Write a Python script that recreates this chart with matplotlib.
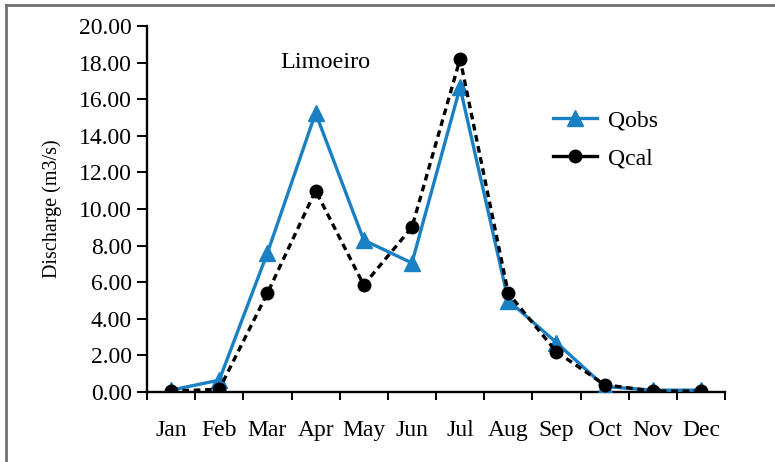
import matplotlib.pyplot as plt
import numpy as np
from matplotlib.lines import Line2D

plt.rcParams['font.family'] = ['Liberation Serif', 'DejaVu Serif']

months = ["Jan", "Feb", "Mar", "Apr", "May", "Jun",
          "Jul", "Aug", "Sep", "Oct", "Nov", "Dec"]
q_obs = [0.10, 0.65, 7.60, 15.25, 8.30, 7.05, 16.65, 5.00, 2.70, 0.30, 0.10, 0.10]
q_cal = [0.05, 0.15, 5.40, 11.00, 5.85, 9.00, 18.20, 5.40, 2.20, 0.40, 0.05, 0.05]
y_ticks = [0, 2, 4, 6, 8, 10, 12, 14, 16, 18, 20]

blue = '#1a80c4'

fig = plt.figure(figsize=(7.75, 4.62), dpi=100)
ax = fig.add_axes([147 / 775, 70 / 462, 578 / 775, 366 / 462])

x = np.arange(len(months))
ax.plot(x, q_obs, color=blue, lw=2.4, marker='^', ms=12, zorder=3, label='Qobs')
ax.plot(x, q_cal, color='black', lw=2.4, ls=(0, (2.0, 1.4)), marker='o', ms=9,
        zorder=4, label='Qcal')

ax.set_xlim(-0.5, 11.5)
ax.set_ylim(0, 20)
ax.set_yticks(y_ticks)
ax.set_yticklabels(["%.2f" % v for v in y_ticks], fontsize=17)
ax.set_xticks(x)
ax.set_xticklabels(months, fontsize=17)
ax.set_xticks(np.arange(-0.5, 12, 1), minor=True)
ax.tick_params(axis='x', which='major', length=0, pad=20)
ax.tick_params(axis='x', which='minor', length=6, width=1.4, direction='out')
ax.tick_params(axis='y', length=7, width=1.4, direction='out', pad=4)
ax.set_ylabel("Discharge (m3/s)", fontsize=14.5, labelpad=12)

for s in ['top', 'right']:
    ax.spines[s].set_visible(False)
for s in ['left', 'bottom']:
    ax.spines[s].set_linewidth(1.7)

ax.text(3.2, 18.0, "Limoeiro", fontsize=17.5, ha='center', va='center')

handles = [Line2D([], [], color=blue, lw=2.4, marker='^', ms=12),
           Line2D([], [], color='black', lw=2.4, marker='o', ms=9)]
ax.legend(handles, ['Qobs', 'Qcal'], loc='center left', bbox_to_anchor=(0.665, 0.69),
          frameon=False, fontsize=17, handlelength=1.9, handletextpad=0.45,
          labelspacing=0.7)

# frame around the figure (top and left edges)
fig.add_artist(Line2D([6 / 775, 1], [1 - 5 / 462, 1 - 5 / 462], transform=fig.transFigure,
                      color='#707070', lw=2))
fig.add_artist(Line2D([6 / 775, 6 / 775], [0, 1 - 5 / 462], transform=fig.transFigure,
                      color='#707070', lw=2))

fig.savefig("out.png", dpi=100)
